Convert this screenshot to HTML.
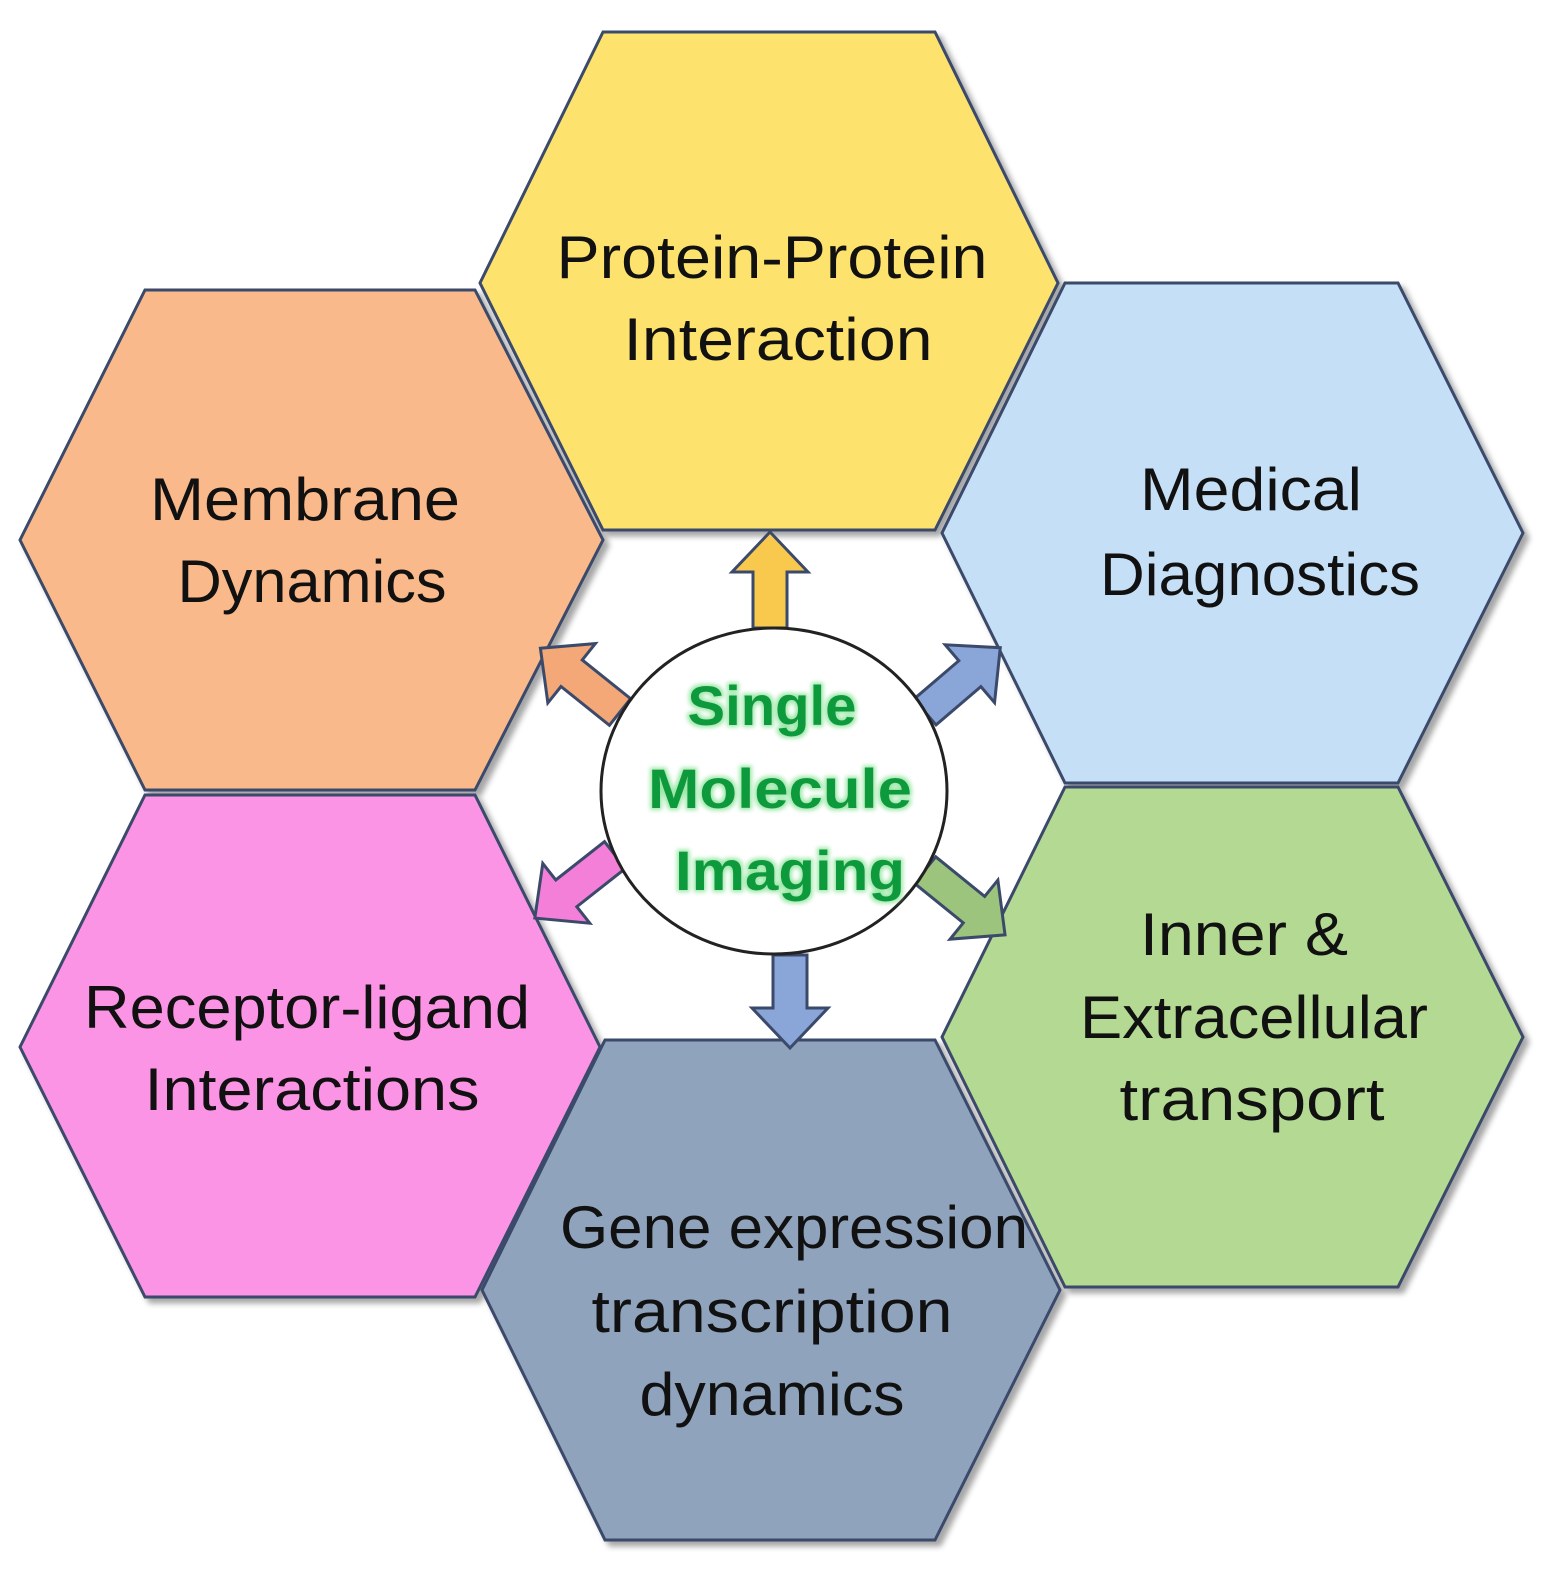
<!DOCTYPE html>
<html><head><meta charset="utf-8"><style>
html,body{margin:0;padding:0;background:#fff;}
svg{display:block;}
text{font-family:"Liberation Sans",sans-serif;fill:#111;}
</style></head><body>
<svg width="1553" height="1575" viewBox="0 0 1553 1575" xmlns="http://www.w3.org/2000/svg">
<defs>
<filter id="sh" x="-10%" y="-10%" width="130%" height="130%">
<feDropShadow dx="5" dy="5" stdDeviation="3" flood-color="#000" flood-opacity="0.35"/>
</filter>
<filter id="glow" x="-20%" y="-20%" width="140%" height="140%">
<feMorphology in="SourceAlpha" operator="dilate" radius="2" result="d"/>
<feGaussianBlur in="d" stdDeviation="2" result="b"/>
<feFlood flood-color="#9be8a8"/><feComposite in2="b" operator="in" result="g"/>
<feMerge><feMergeNode in="g"/><feMergeNode in="SourceGraphic"/></feMerge>
</filter>
</defs>
<g stroke="#3b4a6a" stroke-width="3" filter="url(#sh)">
<polygon fill="#fde36e" points="603,32 935,32 1058,283 935,530 603,530 480,283"/>
<polygon fill="#f9b98a" points="145,290 475,290 603,540 475,790 145,790 20,540"/>
<polygon fill="#c5dff7" points="1065,283 1398,283 1523,533 1398,783 1065,783 942,533"/>
<polygon fill="#fc94e6" points="145,795 475,795 600,1047 475,1297 145,1297 20,1047"/>
<polygon fill="#b4d993" points="1065,787 1398,787 1523,1037 1398,1287 1065,1287 942,1037"/>
<polygon fill="#8fa3bc" points="605,1040 935,1040 1060,1290 935,1540 605,1540 482,1290"/>
</g>
<g stroke="#3b4a6a" stroke-width="3">
<polygon fill="#f9c94e" transform="translate(770,628)" points="-17,0 17,0 17,-56 38,-56 0,-96 -38,-56 -17,-56"/>
<polygon fill="#f4a777" transform="translate(620,712) rotate(-51.3)" points="-17,0 17,0 17,-62 38,-62 0,-102 -38,-62 -17,-62"/>
<polygon fill="#8aa5d8" transform="translate(925,712) rotate(49.5)" points="-17,0 17,0 17,-59 38,-59 0,-99 -38,-59 -17,-59"/>
<polygon fill="#f47fd8" transform="translate(615,855) rotate(-128.2)" points="-17,0 17,0 17,-62 38,-62 0,-102 -38,-62 -17,-62"/>
<polygon fill="#9cc47c" transform="translate(925,870) rotate(129)" points="-17,0 17,0 17,-63 38,-63 0,-103 -38,-63 -17,-63"/>
<polygon fill="#8aa5d8" transform="translate(790,955) rotate(180)" points="-17,0 17,0 17,-53 38,-53 0,-93 -38,-53 -17,-53"/>
</g>
<ellipse cx="774" cy="791" rx="173" ry="163" fill="#fff" stroke="#222" stroke-width="3"/>
<g font-size="60" text-anchor="middle" lengthAdjust="spacingAndGlyphs">
<text x="772" y="278" textLength="431" lengthAdjust="spacingAndGlyphs">Protein-Protein</text>
<text x="778" y="360" textLength="309" lengthAdjust="spacingAndGlyphs">Interaction</text>
<text x="305" y="520" textLength="310" lengthAdjust="spacingAndGlyphs">Membrane</text>
<text x="312" y="602" textLength="269" lengthAdjust="spacingAndGlyphs">Dynamics</text>
<text x="1251" y="510" textLength="222" lengthAdjust="spacingAndGlyphs">Medical</text>
<text x="1260" y="595" textLength="320" lengthAdjust="spacingAndGlyphs">Diagnostics</text>
<text x="307" y="1028" textLength="446" lengthAdjust="spacingAndGlyphs">Receptor-ligand</text>
<text x="312" y="1110" textLength="335" lengthAdjust="spacingAndGlyphs">Interactions</text>
<text x="1244" y="955" textLength="208" lengthAdjust="spacingAndGlyphs">Inner &amp;</text>
<text x="1254" y="1038" textLength="348" lengthAdjust="spacingAndGlyphs">Extracellular</text>
<text x="1252" y="1120" textLength="265" lengthAdjust="spacingAndGlyphs">transport</text>
<text x="794" y="1248" textLength="468" lengthAdjust="spacingAndGlyphs">Gene expression</text>
<text x="772" y="1332" textLength="361" lengthAdjust="spacingAndGlyphs">transcription</text>
<text x="772" y="1415" textLength="265" lengthAdjust="spacingAndGlyphs">dynamics</text>
</g>
<g font-size="56" font-weight="bold" text-anchor="middle" filter="url(#glow)">
<text x="772" y="725" style="fill:#0b9a3e" textLength="169" lengthAdjust="spacingAndGlyphs">Single</text>
<text x="780" y="808" style="fill:#0b9a3e" textLength="264" lengthAdjust="spacingAndGlyphs">Molecule</text>
<text x="790" y="890" style="fill:#0b9a3e" textLength="230" lengthAdjust="spacingAndGlyphs">Imaging</text>
</g>
</svg>
</body></html>
